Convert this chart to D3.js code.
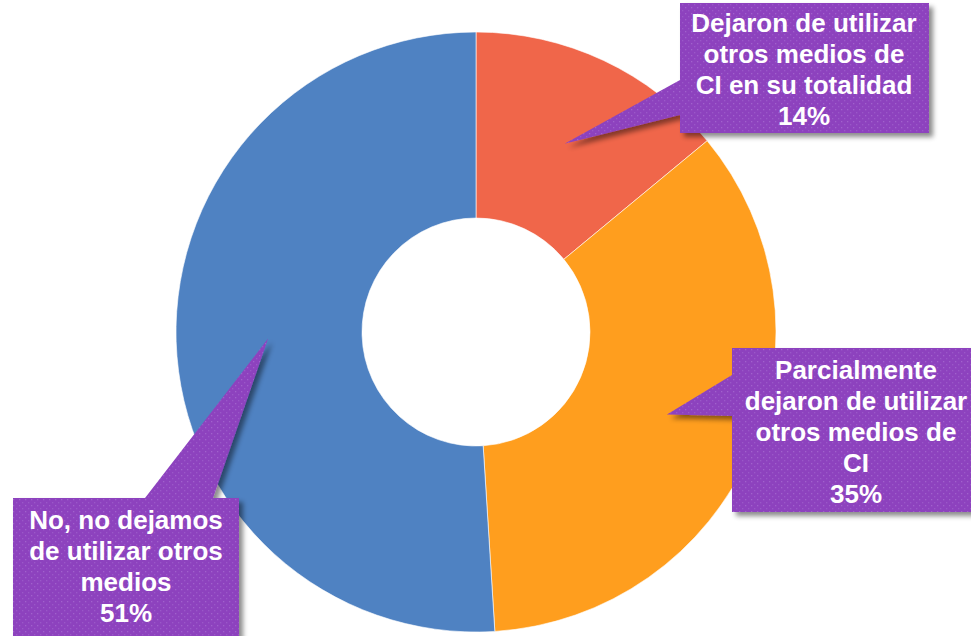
<!DOCTYPE html>
<html>
<head>
<meta charset="utf-8">
<script src="https://cdn.jsdelivr.net/npm/d3@7"></script>
<style>
html,body{margin:0;padding:0;background:#fff;}
svg{display:block;}
</style>
</head>
<body>
<svg id="chart" width="971" height="636"></svg>
<script>
const categories = [
  "Dejaron de utilizar otros medios de CI en su totalidad",
  "Parcialmente dejaron de utilizar otros medios de CI",
  "No, no dejamos de utilizar otros medios"
];
const values = [14, 35, 51];
const percentLabels = ["14%", "35%", "51%"];
const labelLines = [
  ["Dejaron de utilizar", "otros medios de", "CI en su totalidad", "14%"],
  ["Parcialmente", "dejaron de utilizar", "otros medios de", "CI", "35%"],
  ["No, no dejamos", "de utilizar otros", "medios", "51%"]
];
const colors = ["#F0664A", "#FF9E1E", "#4F82C2"];

const svg = d3.select("#chart");
const cx = 476, cy = 332, rOuter = 300, rInner = 114;

const defs = svg.append("defs");
const pat = defs.append("pattern").attr("id","dots").attr("patternUnits","userSpaceOnUse")
  .attr("width",6).attr("height",6);
pat.append("rect").attr("width",6).attr("height",6).attr("fill","#8D42BE");
pat.append("rect").attr("x",1).attr("y",1).attr("width",1.3).attr("height",1.3).attr("fill","#A062CC");
pat.append("rect").attr("x",4).attr("y",4).attr("width",1.3).attr("height",1.3).attr("fill","#9A58C8");
const filt = defs.append("filter").attr("id","shadow").attr("x","-20%").attr("y","-20%").attr("width","150%").attr("height","150%");
filt.append("feDropShadow").attr("dx",4).attr("dy",4).attr("stdDeviation",2.5)
  .attr("flood-color","#000").attr("flood-opacity",0.45);

const pie = d3.pie().sort(null).value(d => d).startAngle(0).endAngle(2*Math.PI);
const arcs = pie(values);
const arc = d3.arc().innerRadius(rInner).outerRadius(rOuter);
const g = svg.append("g").attr("transform", `translate(${cx},${cy})`);
g.selectAll("path.slice").data(arcs).enter().append("path")
  .attr("class","slice")
  .attr("d", arc)
  .attr("fill", (d,i) => colors[i])
  .attr("stroke","#ffffff").attr("stroke-width",0.6);

// callout tips: placed in each slice at its mid angle
const tipArc = d3.arc().innerRadius(208).outerRadius(208);
const tips = arcs.map(a => {
  const c = tipArc.centroid(a);
  return [c[0]+cx, c[1]+cy];
});

// callout box layout
const boxes = [
  {x0:680, y0:3, x1:929, y1:133, side:"left", b1:80, b2:115, textY:23, tx:804},
  {x0:732, y0:348, x1:976, y1:512, side:"left", b1:375, b2:416, textY:370, tx:856},
  {x0:13, y0:498, x1:239, y1:650, side:"top", b1:145, b2:213, textY:520, tx:126}
];
const lineH = 31;

boxes.forEach((b, i) => {
  const t = tips[i];
  let pts;
  if (b.side === "left") {
    pts = [[b.x0,b.y0],[b.x1,b.y0],[b.x1,b.y1],[b.x0,b.y1],[b.x0,b.b2],t,[b.x0,b.b1]];
  } else {
    pts = [[b.x0,b.y0],[b.b1,b.y0],t,[b.b2,b.y0],[b.x1,b.y0],[b.x1,b.y1],[b.x0,b.y1]];
  }
  svg.append("path")
    .attr("d", d3.line()(pts) + "Z")
    .attr("fill","url(#dots)")
    .attr("filter","url(#shadow)");
  const text = svg.append("text")
    .attr("text-anchor","middle")
    .attr("font-family","Liberation Sans, Arial, sans-serif")
    .attr("font-weight","bold")
    .attr("font-size","26px")
    .attr("fill","#ffffff");
  labelLines[i].forEach((ln, k) => {
    text.append("tspan")
      .attr("x", b.tx)
      .attr("y", b.textY + k*lineH)
      .attr("dy","0.35em")
      .text(ln);
  });
});
</script>
</body>
</html>
